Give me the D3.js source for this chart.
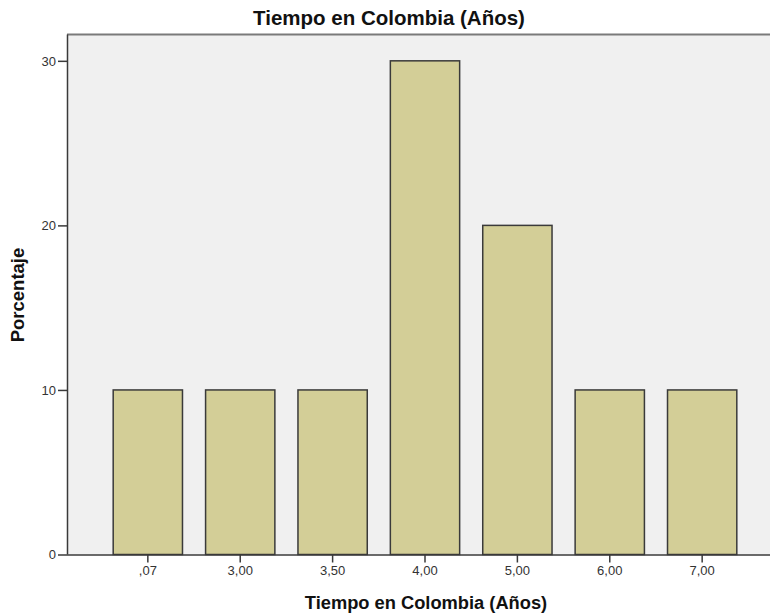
<!DOCTYPE html>
<html>
<head>
<meta charset="utf-8">
<script src="https://cdn.jsdelivr.net/npm/d3@7"></script>
<style>
html,body{margin:0;padding:0;background:#fff;}
svg{display:block;font-family:"Liberation Sans",Arial,sans-serif;}
</style>
</head>
<body>
<script>
const categories = [",07", "3,00", "3,50", "4,00", "5,00", "6,00", "7,00"];
const percentages = [10, 10, 10, 30, 20, 10, 10];
const yTicks = [0, 10, 20, 30];
const chartTitle = "Tiempo en Colombia (Años)";
const xTitle = "Tiempo en Colombia (Años)";
const yTitle = "Porcentaje";

const W = 770, H = 616;
const plot = {left: 67, top: 34.5, right: 783, bottom: 554.5};

const svg = d3.select("body").append("svg").attr("width", W).attr("height", H);

const x = d3.scaleBand().domain(categories).range([plot.left, plot.right])
  .paddingInner(0.25).paddingOuter(0.5);
const y = d3.scaleLinear().domain([0, 31.6]).range([plot.bottom, plot.top]);

// plot background
svg.append("rect")
  .attr("x", plot.left).attr("y", plot.top)
  .attr("width", plot.right - plot.left).attr("height", plot.bottom - plot.top)
  .attr("fill", "#f0f0f0");
// top frame
svg.append("line").attr("x1", plot.left).attr("x2", W).attr("y1", plot.top).attr("y2", plot.top)
  .attr("stroke", "#7a7a7a").attr("stroke-width", 2);

// bars
svg.append("g").selectAll("rect").data(categories).join("rect")
  .attr("x", d => x(d))
  .attr("y", (d, i) => y(percentages[i]))
  .attr("width", x.bandwidth())
  .attr("height", (d, i) => y(0) - y(percentages[i]))
  .attr("fill", "#d3ce97")
  .attr("stroke", "#3a3a3a")
  .attr("stroke-width", 1.5);

// y axis
const yAxis = svg.append("g").attr("transform", `translate(${plot.left},0)`)
  .call(d3.axisLeft(y).tickValues(yTicks).tickSize(9).tickPadding(2).tickFormat(d3.format("d")));
// x axis
const xAxis = svg.append("g").attr("transform", `translate(0,${plot.bottom})`)
  .call(d3.axisBottom(x).tickSize(8).tickPadding(3));

[yAxis, xAxis].forEach(a => {
  a.select(".domain").attr("stroke", "#3a3a3a").attr("stroke-width", 1.5);
  a.selectAll(".tick line").attr("stroke", "#3a3a3a").attr("stroke-width", 1.5);
  a.selectAll(".tick text").attr("fill", "#333").style("font-size", "13px")
    .style("font-family", "'Liberation Sans', Arial, sans-serif");
});
// extend x axis domain line across window
xAxis.select(".domain").attr("d", `M${plot.left},0.5H${W}`);
yAxis.select(".domain").attr("d", `M0.5,${plot.top}V${plot.bottom}`);

// titles
svg.append("text").attr("x", 389).attr("y", 25)
  .attr("text-anchor", "middle").attr("font-weight", "bold").attr("font-size", 20.5)
  .attr("fill", "#111").text(chartTitle);
svg.append("text").attr("x", 426).attr("y", 609)
  .attr("text-anchor", "middle").attr("font-weight", "bold").attr("font-size", 18.3)
  .attr("fill", "#111").text(xTitle);
svg.append("text").attr("transform", "translate(24,295) rotate(-90)")
  .attr("text-anchor", "middle").attr("font-weight", "bold").attr("font-size", 18.5)
  .attr("fill", "#111").text(yTitle);
</script>
</body>
</html>
